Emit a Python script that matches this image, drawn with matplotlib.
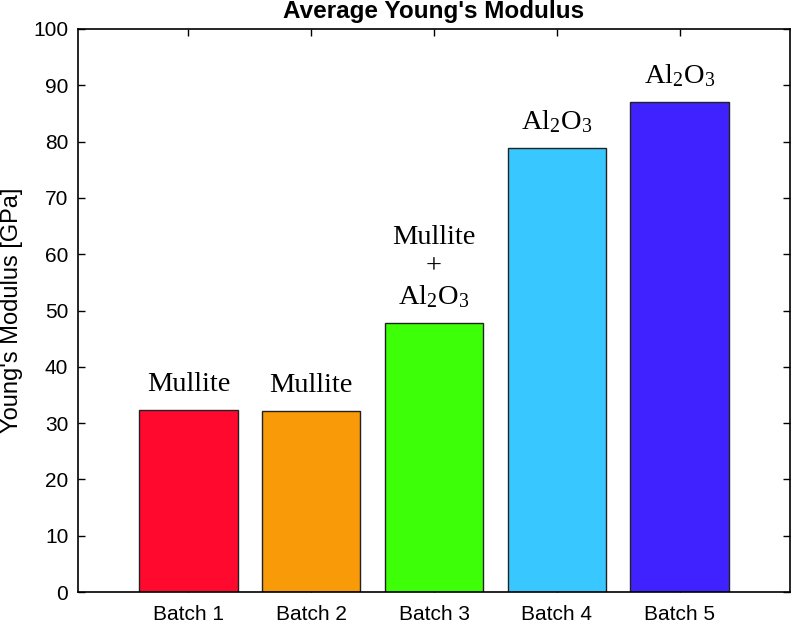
import numpy as np
import matplotlib
matplotlib.use('Agg')
import matplotlib.pyplot as plt

batches = ['Batch 1', 'Batch 2', 'Batch 3', 'Batch 4', 'Batch 5']
modulus = [32.3, 32.2, 47.7, 78.8, 87.0]
phases = ['Mullite', 'Mullite', 'Mullite\n+\nAl$_2$O$_3$', 'Al$_2$O$_3$', 'Al$_2$O$_3$']
colors = ['#ff0a2e', '#f99a08', '#3cff08', '#38c8ff', '#3f22ff']

plt.rcParams['font.family'] = 'Liberation Sans'
plt.rcParams['mathtext.fontset'] = 'custom'
plt.rcParams['mathtext.rm'] = 'Liberation Serif'
plt.rcParams['mathtext.it'] = 'Liberation Serif:italic'

fig = plt.figure(figsize=(7.92, 6.25), dpi=100)
ax = fig.add_axes([0.0985, 0.0528, 0.899, 0.9008])

x = np.arange(1, len(batches) + 1)
ax.bar(x, modulus, width=0.8, color=colors, edgecolor='#222222', linewidth=1.0, zorder=2)

for xi, v, lab in zip(x, modulus, phases):
    ax.text(xi, v + 2.3, lab, ha='center', va='bottom', fontsize=20.5,
            family='Liberation Serif', linespacing=1.22)

ax.set_xlim(0.1, 5.9)
ax.set_ylim(0, 100)
ax.set_xticks(x)
ax.set_xticklabels(batches)
ax.set_yticks(np.arange(0, 101, 10))
ax.tick_params(direction='in', length=5, width=1, top=True, right=True, labelsize=15)
ax.tick_params(axis='x', pad=9.5)
ax.tick_params(axis='y', pad=7)
for s in ax.spines.values():
    s.set_linewidth(1.2)
ax.set_ylabel("Young's Modulus [GPa]", fontsize=17, labelpad=7)
ax.set_title("Average Young's Modulus", fontsize=17.5, fontweight='bold', pad=8)

fig.savefig('out.png', dpi=100)
